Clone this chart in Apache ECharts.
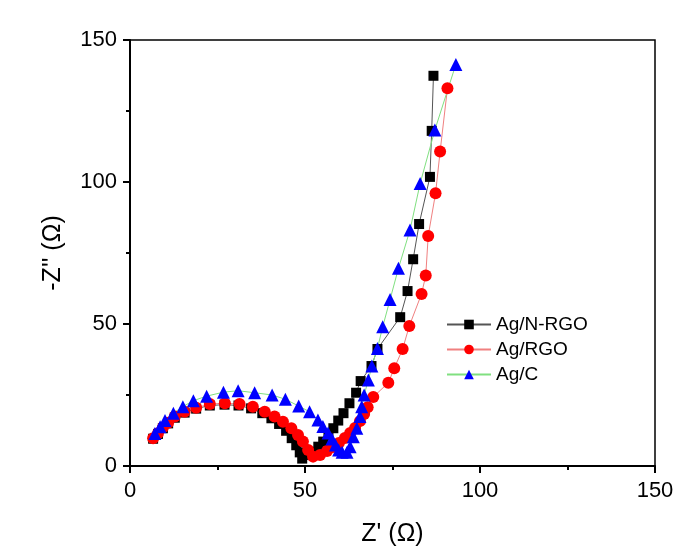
<!DOCTYPE html>
<html><head><meta charset="utf-8">
<script src="https://cdn.jsdelivr.net/npm/echarts@6/dist/echarts.min.js"></script>
<style>html,body{margin:0;padding:0;background:#fff}#c{width:689px;height:556px}</style>
</head><body><div id="c"></div>
<script>
var seriesNames = ['Ag/N-RGO', 'Ag/RGO', 'Ag/C'];
var xTicks = [0, 50, 100, 150];
var yTicks = [0, 50, 100, 150];

var agNRGO = [
[6.6,9.6],[8.0,11.3],[9.4,13.3],[10.9,15.0],[12.8,17.0],[15.6,18.8],[18.9,20.2],[22.8,21.3],[27.0,21.6],[31.0,21.3],[34.6,20.3],[37.8,18.6],[40.4,16.8],[42.6,14.8],[44.6,12.4],[46.2,9.8],[47.5,7.3],[48.5,4.8],[49.2,2.6],
[50.9,3.9],[52.4,5.0],[53.8,6.8],[55.2,8.6],[56.7,10.9],[58.1,13.3],[59.5,16.0],[61.0,18.6],[62.7,22.1],[64.6,25.8],[65.9,29.9],[69.0,35.2],[70.7,41.2],[77.2,52.4],[79.3,61.6],[80.9,72.8],[82.6,85.2],[85.7,101.8],[86.2,118.0],[86.7,137.4]
];
var agRGO = [
[6.6,9.8],[8.0,11.5],[9.4,13.6],[10.9,15.2],[12.8,17.4],[15.6,19.1],[18.9,20.5],[22.8,21.8],[27.1,22.1],[31.3,21.8],[35.1,20.9],[38.5,19.1],[41.3,17.4],[43.7,15.6],[46.1,13.3],[48.0,10.9],[49.4,8.6],[50.9,5.6],[52.3,3.3],
[54.3,3.9],[56.3,5.3],[58.0,6.7],[59.7,8.1],[61.4,9.9],[62.9,11.6],[64.3,13.4],[65.7,15.8],[66.9,18.3],[67.9,20.7],[69.5,24.3],[73.8,29.3],[75.5,34.4],[77.9,41.2],[79.8,49.3],[83.3,60.6],[84.5,67.1],[85.2,81.0],[87.3,96.0],[88.6,110.7],[90.7,133.0]
];
var agC = [
[7.1,11.4],[8.6,13.8],[10.0,16.0],[12.4,18.6],[15.1,20.9],[18.1,23.0],[21.9,24.6],[26.7,26.0],[30.9,26.5],[35.6,25.8],[40.6,25.0],[44.4,23.5],[48.2,21.1],[51.3,19.1],[53.7,16.2],[55.1,13.9],[56.6,11.6],[57.7,9.5],[58.7,7.4],[59.6,5.6],[60.6,4.8],[62.0,4.8],
[62.9,6.8],[63.8,10.3],[64.8,13.3],[65.7,17.4],[66.2,20.9],[66.9,25.0],[68.1,30.3],[69.1,35.2],[70.7,41.4],[72.2,49.0],[74.3,58.6],[76.7,69.6],[80.0,83.1],[82.9,99.5],[87.1,118.3],[93.1,141.4]
];

var FONT = 'Liberation Sans, Arial, sans-serif';
var chart = echarts.init(document.getElementById('c'), null, {renderer: 'canvas'});
function axis(name, gap, rot, margin) {
  return {
    type: 'value', min: 0, max: 150, interval: 50,
    name: name, nameLocation: 'middle', nameGap: gap, nameRotate: rot,
    nameTextStyle: {color: '#000', fontSize: 25, fontFamily: FONT},
    axisLine: {show: true, onZero: false, lineStyle: {color: '#000', width: 2}},
    axisTick: {show: true, inside: false, length: 7, lineStyle: {color: '#000', width: 2}},
    minorTick: {show: true, splitNumber: 2, length: 4, lineStyle: {color: '#000', width: 2}},
    splitLine: {show: false},
    axisLabel: {color: '#000', fontSize: 22, fontFamily: FONT, margin: margin}
  };
}
var xa = axis("Z' (\u03A9)", 56, 0, 14);
var ya = axis("-Z'' (\u03A9)", 64, 90, 13);
chart.setOption({
  animation: false,
  backgroundColor: '#fff',
  grid: {left: 130, right: 34, top: 40, bottom: 90, show: true, borderColor: '#000', borderWidth: 1.5, backgroundColor: 'transparent'},
  xAxis: xa,
  yAxis: ya,
  legend: {
    orient: 'vertical', left: 441, top: 310,
    itemWidth: 44, itemHeight: 12, itemGap: 6,
    textStyle: {color: '#000', fontSize: 19, fontFamily: FONT, padding: [0,0,0,0]},
    data: seriesNames
  },
  series: [
    {name: seriesNames[0], type: 'line', data: agNRGO, symbol: 'rect', symbolSize: 10,
     itemStyle: {color: '#000'}, lineStyle: {color: '#555', width: 1}},
    {name: seriesNames[1], type: 'line', data: agRGO, symbol: 'circle', symbolSize: 12,
     itemStyle: {color: '#ff0000'}, lineStyle: {color: '#f08080', width: 1}},
    {name: seriesNames[2], type: 'line', data: agC, symbol: 'triangle', symbolSize: 13,
     itemStyle: {color: '#0000ff'}, lineStyle: {color: '#80e080', width: 1}}
  ]
});
</script></body></html>
